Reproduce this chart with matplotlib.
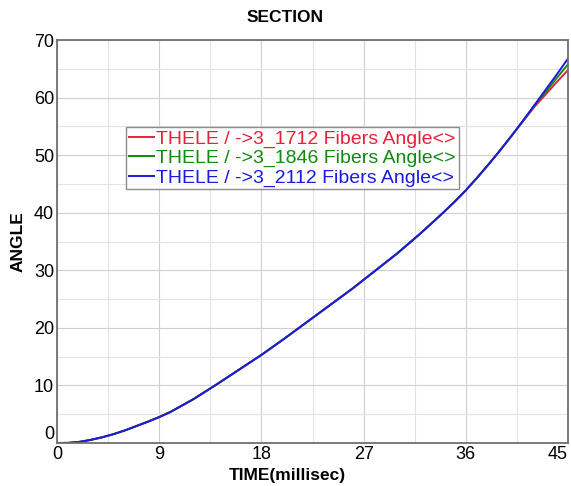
import numpy as np
import matplotlib
matplotlib.use('Agg')
import matplotlib.pyplot as plt

plt.rcParams['font.family'] = ['Liberation Sans', 'DejaVu Sans']

# Fiber angle vs time for three elements
time_ms = [0, 1, 2, 3, 4, 5, 6, 7, 8, 9, 10, 12, 14, 16, 18, 20, 22, 24, 26, 28,
           30, 31, 32, 33, 34, 35, 36, 37, 38, 39, 40, 41, 42, 43, 44, 45]
angle_1712 = [0, 0.02, 0.2, 0.55, 1.0, 1.55, 2.2, 2.95, 3.7, 4.5, 5.4, 7.6, 10.1, 12.7,
              15.3, 18.1, 21.0, 23.9, 26.8, 29.9, 33.0, 34.7, 36.4, 38.2, 40.0,
              41.9, 43.9, 46.1, 48.4, 50.8, 53.3, 55.8, 58.3, 60.5, 62.7, 64.8]
angle_1846 = [0, 0.02, 0.2, 0.55, 1.0, 1.55, 2.2, 2.95, 3.7, 4.5, 5.4, 7.6, 10.1, 12.7,
              15.3, 18.1, 21.0, 23.9, 26.8, 29.9, 33.0, 34.7, 36.4, 38.2, 40.0,
              41.9, 43.9, 46.1, 48.4, 50.8, 53.3, 55.9, 58.5, 60.9, 63.4, 65.8]
angle_2112 = [0, 0.02, 0.2, 0.55, 1.0, 1.55, 2.2, 2.95, 3.7, 4.5, 5.4, 7.6, 10.1, 12.7,
              15.3, 18.1, 21.0, 23.9, 26.8, 29.9, 33.0, 34.7, 36.4, 38.2, 40.0,
              41.9, 43.9, 46.1, 48.4, 50.8, 53.3, 55.9, 58.6, 61.3, 64.0, 66.8]

labels = ['THELE / ->3_1712 Fibers Angle<>',
          'THELE / ->3_1846 Fibers Angle<>',
          'THELE / ->3_2112 Fibers Angle<>']
colors = ['#e8203a', '#128a12', '#1a1ae0']

x_ticks = [0, 9, 18, 27, 36, 45]
y_ticks = [0, 10, 20, 30, 40, 50, 60, 70]

fig = plt.figure(figsize=(5.71, 4.86), dpi=100)
ax = fig.add_axes([0.0998, 0.0885, 0.895, 0.829])

for y, lab, c in zip([angle_1712, angle_1846, angle_2112], labels, colors):
    ax.plot(time_ms, y, color=c, linewidth=1.4, label=lab)

ax.set_xlim(0, 45)
ax.set_ylim(0, 70)
ax.set_xticks(x_ticks)
ax.set_xticks(np.arange(4.5, 45, 9), minor=True)
ax.set_yticks(y_ticks)
ax.set_yticks(np.arange(5, 70, 10), minor=True)
ax.grid(which='major', color='#cfcfcf', linewidth=0.8)
ax.grid(which='minor', color='#e2e2e2', linewidth=0.8)
ax.set_axisbelow(True)
ax.tick_params(which='both', length=0, labelsize=13, pad=2)
for s in ax.spines.values():
    s.set_color('#707070')
    s.set_linewidth(1.3)

# last x tick label sits flush with the right edge, y "0" lifted off the x "0"
ax.xaxis.get_major_ticks()[-1].label1.set_horizontalalignment('right')
ax.yaxis.get_major_ticks()[0].label1.set_verticalalignment('bottom')

fig.text(0.499, 0.963, 'SECTION', fontsize=12.5, fontweight='bold',
         ha='center', va='center')
fig.text(0.503, 0.022, 'TIME(millisec)', fontsize=12.5, fontweight='bold',
         ha='center', va='center')
ax.set_ylabel('ANGLE', fontsize=12.5, fontweight='bold', labelpad=6)

leg = ax.legend(loc='upper left', bbox_to_anchor=(0.135, 0.784), fontsize=14,
                frameon=True, fancybox=False, handlelength=1.3, handletextpad=0.1,
                borderpad=0.15, labelspacing=0.08, borderaxespad=0)
leg.get_frame().set_edgecolor('#707070')
leg.get_frame().set_linewidth(1.0)
for t, c in zip(leg.get_texts(), colors):
    t.set_color(c)

fig.savefig('out.png', dpi=100)
